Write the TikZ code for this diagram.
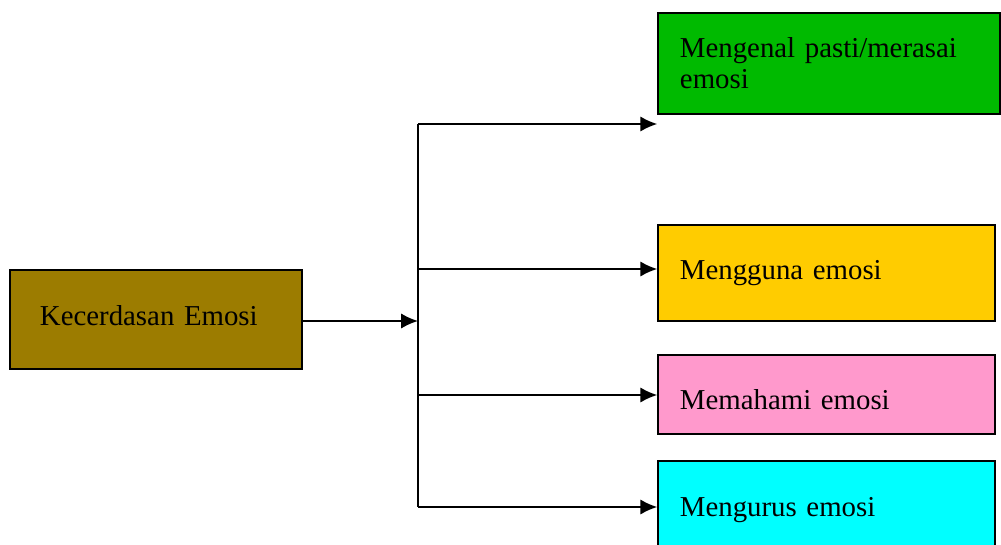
\documentclass[tikz,border=0pt]{standalone}
\usepackage{fontspec}
\setmainfont{Liberation Serif}
\usepackage{tikz}
\usetikzlibrary{arrows,arrows.meta,calc}
\definecolor{EQOlive}{HTML}{9C7C00}
\definecolor{EQGreen}{HTML}{00BA00}
\definecolor{EQYellow}{HTML}{FFCC00}
\definecolor{EQPink}{HTML}{FF99CC}
\definecolor{EQCyan}{HTML}{00FFFF}
\tikzset{
    block/.style = {draw, rectangle, line width=1pt,
        minimum height=2.4cm,
        minimum width=8.425cm, text width=7.325cm,
        inner xsep=0.55cm, align=left,
        font=\fontsize{20.5}{22}\selectfont},
    branch/.style = {coordinate},
    arrow/.style = {draw, line width=1.3pt, -{Latex[length=4.2mm,width=3.8mm]}},
    trunk/.style = {draw, line width=1.3pt}
}

\begin{document}
\begin{tikzpicture}[x=0.025cm, y=-0.025cm]
    \useasboundingbox (0,0) rectangle (1001,545);
    % source box
    \node [block, fill=EQOlive, minimum width=7.3cm, minimum height=2.475cm,
        text width=5.8cm, inner xsep=0.75cm, text depth=0.22cm] (emosi) at (156,319.5) {Kecerdasan Emosi};
    % the four target boxes
    \node [block, fill=EQGreen, minimum width=8.55cm, text width=7.45cm,
        minimum height=2.525cm] (mengenal) at (829,63.5) {Mengenal pasti/merasai\\emosi};
    \node [block, fill=EQYellow] (mengguna) at (826.5,273) {Mengguna emosi};
    \node [block, fill=EQPink, minimum height=1.975cm, text height=0.75cm] (memahami) at (826.5,394.5) {Memahami emosi};
    \node [block, fill=EQCyan, minimum height=2.275cm, text height=0.65cm] (mengurus) at (826.5,506.5) {Mengurus emosi};
    % split point and branches on the trunk
    \node [branch] (split) at (418,321) {};
    \node [branch] (b1) at (418,124) {};
    \node [branch] (b2) at (418,269) {};
    \node [branch] (b3) at (418,395) {};
    \node [branch] (b4) at (418,507) {};
    \draw [arrow] (emosi.east |- split) -- (split);
    \draw [trunk] (b1) -- (b4);
    \draw [arrow] (b1) -- (b1 -| mengenal.west);
    \draw [arrow] (b2) -- (b2 -| mengguna.west);
    \draw [arrow] (b3) -- (b3 -| memahami.west);
    \draw [arrow] (b4) -- (b4 -| mengurus.west);
\end{tikzpicture}
\end{document}
